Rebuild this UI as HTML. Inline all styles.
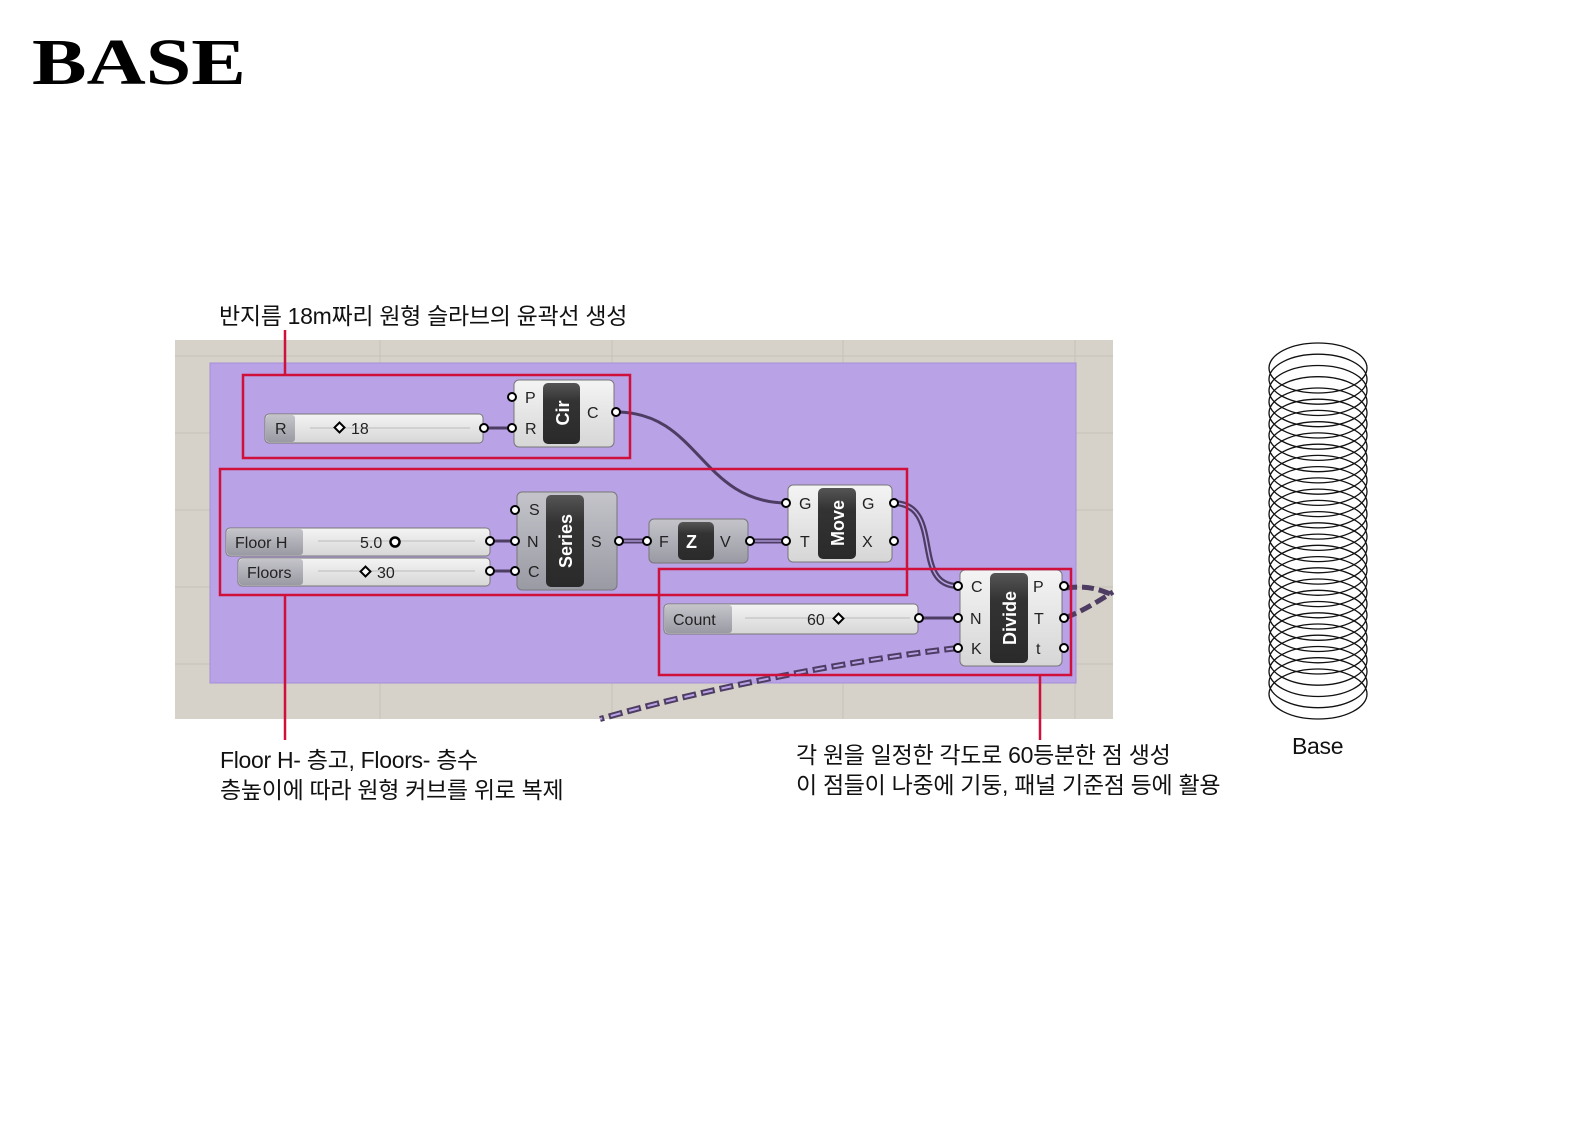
<!DOCTYPE html>
<html><head><meta charset="utf-8">
<style>
body{margin:0;background:#fff;width:1587px;height:1122px;overflow:hidden;position:relative;font-family:"Liberation Sans","Noto Sans CJK KR",sans-serif}
.t{position:absolute;color:#111;font-size:23px;line-height:30px;white-space:nowrap;letter-spacing:-0.3px}
</style></head><body>
<div style="position:absolute;left:32px;top:30px;font-family:'Liberation Serif',serif;font-weight:bold;font-size:66px;line-height:66px;transform:scaleX(1.24);transform-origin:left top;color:#000">BASE</div>
<div class="t" style="left:219px;top:301px">반지름 18m짜리 원형 슬라브의 윤곽선 생성</div>
<div class="t" style="left:220px;top:745px">Floor H- 층고, Floors- 층수<br>층높이에 따라 원형 커브를 위로 복제</div>
<div class="t" style="left:796px;top:740px">각 원을 일정한 각도로 60등분한 점 생성<br>이 점들이 나중에 기둥, 패널 기준점 등에 활용</div>
<div class="t" style="left:1292px;top:731px">Base</div>
<svg width="1587" height="1122" style="position:absolute;left:0;top:0" xmlns="http://www.w3.org/2000/svg">
<defs>
<linearGradient id="bx" x1="0" y1="0" x2="0" y2="1"><stop offset="0" stop-color="#f4f4f4"/><stop offset="1" stop-color="#d6d6d6"/></linearGradient>
<linearGradient id="gx" x1="0" y1="0" x2="0" y2="1"><stop offset="0" stop-color="#c4c4ca"/><stop offset="1" stop-color="#9a9aa4"/></linearGradient>
<linearGradient id="dk" x1="0" y1="0" x2="0" y2="1"><stop offset="0" stop-color="#555"/><stop offset="0.3" stop-color="#333"/><stop offset="1" stop-color="#2a2a2a"/></linearGradient>
</defs>
<rect x="175" y="340" width="938" height="379" fill="#d6d1c9"/>
<g stroke="#c6c1b9" stroke-width="1">
<line x1="380" y1="340" x2="380" y2="719"/><line x1="612" y1="340" x2="612" y2="719"/><line x1="843" y1="340" x2="843" y2="719"/><line x1="1075" y1="340" x2="1075" y2="719"/>
<line x1="175" y1="356" x2="1113" y2="356"/><line x1="175" y1="433" x2="1113" y2="433"/><line x1="175" y1="510" x2="1113" y2="510"/><line x1="175" y1="587" x2="1113" y2="587"/><line x1="175" y1="664" x2="1113" y2="664"/>
</g>
<rect x="210" y="363" width="866" height="320" fill="#b9a2e6" stroke="#a58fd8"/>
<g fill="none" stroke="#4e3d63" stroke-width="3">
<path d="M616 412 C700 412,700 503,788 503"/>
<path d="M484 428 L512 428"/><path d="M490 541 L514 541"/><path d="M490 571 L514 571"/>
<path d="M618 541 L648 541" stroke-width="5"/><path d="M748 541 L786 541" stroke-width="5"/>
<path d="M893 503 C945 503,910 586,958 586" stroke-width="6"/>
<path d="M918 618 L958 618"/>
</g>
<path d="M893 503 C945 503,910 586,958 586" stroke="#b9a2e6" stroke-width="1.5" fill="none"/>
<path d="M748 541 L786 541 M618 541 L648 541" stroke="#b9a2e6" stroke-width="1.3" fill="none"/>
<path d="M958 648 C850 660,700 690,600 719" stroke="#4e3d63" stroke-width="6" stroke-dasharray="14 5" fill="none"/>
<path d="M958 648 C850 660,700 690,600 719" stroke="#b9a2e6" stroke-width="2" stroke-dasharray="10 9" stroke-dashoffset="-2" fill="none"/>
<path d="M1065 588 C1090 585,1100 590,1113 595 M1065 618 C1085 610,1100 600,1113 592" stroke="#4e3d63" stroke-width="5" stroke-dasharray="12 5" fill="none"/>
<g font-family="Liberation Sans,sans-serif" font-size="16" fill="#222">
<rect x="265" y="414" width="218" height="29" rx="4" fill="url(#bx)" stroke="#777"/>
<rect x="266" y="415" width="29" height="27" rx="3" fill="url(#gx)"/>
<text x="275" y="434">R</text>
<line x1="310" y1="428" x2="470" y2="428" stroke="#bbb"/>
<rect x="336" y="424" width="7" height="7" transform="rotate(45 339.5 427.5)" fill="#fff" stroke="#000" stroke-width="2"/>
<text x="351" y="434">18</text>
<rect x="514" y="380" width="100" height="67" rx="5" fill="url(#bx)" stroke="#777"/>
<rect x="543" y="383" width="37" height="61" rx="5" fill="url(#dk)"/>
<text transform="translate(569 413) rotate(-90)" text-anchor="middle" fill="#fff" font-weight="bold" font-size="18">Cir</text>
<text x="525" y="403">P</text><text x="525" y="434">R</text><text x="587" y="418">C</text>
<rect x="226" y="528" width="264" height="28" rx="4" fill="url(#bx)" stroke="#777"/>
<rect x="227" y="529" width="76" height="26" rx="3" fill="url(#gx)"/>
<text x="235" y="548">Floor H</text>
<line x1="318" y1="541" x2="475" y2="541" stroke="#bbb"/>
<text x="360" y="548">5.0</text><circle cx="395" cy="542" r="4.5" fill="#fff" stroke="#000" stroke-width="2.5"/>
<rect x="238" y="558" width="252" height="28" rx="4" fill="url(#bx)" stroke="#777"/>
<rect x="239" y="559" width="64" height="26" rx="3" fill="url(#gx)"/>
<text x="247" y="578">Floors</text>
<line x1="318" y1="571" x2="475" y2="571" stroke="#bbb"/>
<rect x="362" y="568" width="7" height="7" transform="rotate(45 365.5 571.5)" fill="#fff" stroke="#000" stroke-width="2"/>
<text x="377" y="578">30</text>
<rect x="517" y="492" width="100" height="98" rx="5" fill="url(#gx)" stroke="#777"/>
<rect x="546" y="495" width="38" height="92" rx="5" fill="url(#dk)"/>
<text transform="translate(572 541) rotate(-90)" text-anchor="middle" fill="#fff" font-weight="bold" font-size="18">Series</text>
<text x="529" y="515">S</text><text x="527" y="547">N</text><text x="528" y="577">C</text><text x="591" y="547">S</text>
<rect x="649" y="519" width="99" height="44" rx="5" fill="url(#gx)" stroke="#777"/>
<rect x="678" y="522" width="36" height="38" rx="5" fill="url(#dk)"/>
<text x="686" y="548" fill="#fff" font-weight="bold" font-size="18">Z</text>
<text x="659" y="547">F</text><text x="720" y="547">V</text>
<rect x="788" y="485" width="104" height="77" rx="5" fill="url(#bx)" stroke="#777"/>
<rect x="818" y="488" width="38" height="71" rx="5" fill="url(#dk)"/>
<text transform="translate(844 523) rotate(-90)" text-anchor="middle" fill="#fff" font-weight="bold" font-size="18">Move</text>
<text x="799" y="509">G</text><text x="800" y="547">T</text><text x="862" y="509">G</text><text x="862" y="547">X</text>
<rect x="664" y="604" width="254" height="30" rx="4" fill="url(#bx)" stroke="#777"/>
<rect x="665" y="605" width="67" height="28" rx="3" fill="url(#gx)"/>
<text x="673" y="625">Count</text>
<line x1="745" y1="618" x2="910" y2="618" stroke="#bbb"/>
<text x="807" y="625">60</text>
<rect x="835" y="615" width="7" height="7" transform="rotate(45 838.5 618.5)" fill="#fff" stroke="#000" stroke-width="2"/>
<rect x="960" y="570" width="102" height="96" rx="5" fill="url(#bx)" stroke="#777"/>
<rect x="990" y="573" width="38" height="90" rx="5" fill="url(#dk)"/>
<text transform="translate(1016 618) rotate(-90)" text-anchor="middle" fill="#fff" font-weight="bold" font-size="18">Divide</text>
<text x="971" y="592">C</text><text x="970" y="624">N</text><text x="971" y="654">K</text>
<text x="1033" y="592">P</text><text x="1034" y="624">T</text><text x="1036" y="654">t</text>
</g>
<g fill="#fff" stroke="#000" stroke-width="2">
<circle cx="512" cy="397" r="4"/><circle cx="512" cy="428" r="4"/><circle cx="616" cy="412" r="4"/><circle cx="484" cy="428" r="4"/>
<circle cx="490" cy="541" r="4"/><circle cx="490" cy="571" r="4"/>
<circle cx="515" cy="510" r="4"/><circle cx="515" cy="541" r="4"/><circle cx="515" cy="571" r="4"/><circle cx="619" cy="541" r="4"/>
<circle cx="647" cy="541" r="4"/><circle cx="750" cy="541" r="4"/>
<circle cx="786" cy="503" r="4"/><circle cx="786" cy="541" r="4"/><circle cx="894" cy="503" r="4"/><circle cx="894" cy="541" r="4"/>
<circle cx="919" cy="618" r="4"/>
<circle cx="958" cy="586" r="4"/><circle cx="958" cy="618" r="4"/><circle cx="958" cy="648" r="4"/>
<circle cx="1064" cy="586" r="4"/><circle cx="1064" cy="618" r="4"/><circle cx="1064" cy="648" r="4"/>
</g>
<g fill="none" stroke="#d0103a" stroke-width="2.5">
<rect x="243" y="375" width="387" height="83"/>
<rect x="220" y="469" width="687" height="126"/>
<rect x="659" y="569" width="412" height="106"/>
<line x1="285" y1="330" x2="285" y2="375"/>
<line x1="285" y1="595" x2="285" y2="740"/>
<line x1="1040" y1="675" x2="1040" y2="740"/>
</g>
<g fill="none" stroke="#111" stroke-width="1.3">
<ellipse cx="1318" cy="368" rx="49" ry="25"/><ellipse cx="1318" cy="379.2" rx="49" ry="25"/><ellipse cx="1318" cy="390.5" rx="49" ry="25"/><ellipse cx="1318" cy="401.7" rx="49" ry="25"/><ellipse cx="1318" cy="413" rx="49" ry="25"/><ellipse cx="1318" cy="424.2" rx="49" ry="25"/><ellipse cx="1318" cy="435.4" rx="49" ry="25"/><ellipse cx="1318" cy="446.7" rx="49" ry="25"/><ellipse cx="1318" cy="457.9" rx="49" ry="25"/><ellipse cx="1318" cy="469.2" rx="49" ry="25"/>
<ellipse cx="1318" cy="480.4" rx="49" ry="25"/><ellipse cx="1318" cy="491.6" rx="49" ry="25"/><ellipse cx="1318" cy="502.9" rx="49" ry="25"/><ellipse cx="1318" cy="514.1" rx="49" ry="25"/><ellipse cx="1318" cy="525.4" rx="49" ry="25"/><ellipse cx="1318" cy="536.6" rx="49" ry="25"/><ellipse cx="1318" cy="547.8" rx="49" ry="25"/><ellipse cx="1318" cy="559.1" rx="49" ry="25"/><ellipse cx="1318" cy="570.3" rx="49" ry="25"/><ellipse cx="1318" cy="581.6" rx="49" ry="25"/>
<ellipse cx="1318" cy="592.8" rx="49" ry="25"/><ellipse cx="1318" cy="604" rx="49" ry="25"/><ellipse cx="1318" cy="615.3" rx="49" ry="25"/><ellipse cx="1318" cy="626.5" rx="49" ry="25"/><ellipse cx="1318" cy="637.8" rx="49" ry="25"/><ellipse cx="1318" cy="649" rx="49" ry="25"/><ellipse cx="1318" cy="660.2" rx="49" ry="25"/><ellipse cx="1318" cy="671.5" rx="49" ry="25"/><ellipse cx="1318" cy="682.7" rx="49" ry="25"/><ellipse cx="1318" cy="694" rx="49" ry="25"/>
</g>
</svg>
</body></html>
